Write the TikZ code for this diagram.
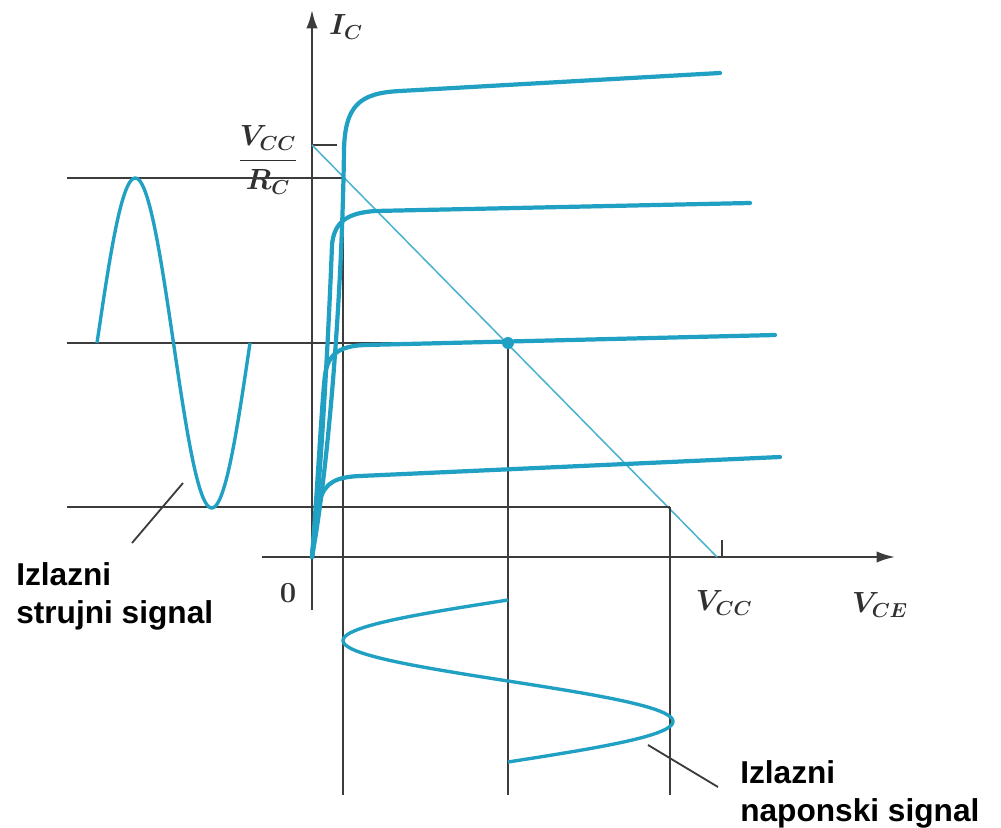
\documentclass[tikz,border=0pt]{standalone}
\usepackage{amsmath}
\usepackage{fontspec}
\newfontfamily\labelfont{Liberation Sans}
\usepackage{tikz}
\usetikzlibrary{arrows.meta}
\definecolor{teal}{RGB}{32,160,194}
\definecolor{ink}{RGB}{60,60,60}
\tikzset{
  axis/.style={ink, line width=1.6pt, -{Latex[length=13pt,width=8pt]}},
  gridline/.style={ink, line width=1.1pt},
  curve/.style={teal, line width=3pt, line cap=round},
  signal/.style={teal, line width=2.4pt},
  loadline/.style={teal!80, line width=1.1pt},
  pointer/.style={ink, line width=1.3pt},
  mathlabel/.style={font=\fontsize{22}{24}\selectfont\boldmath, text=ink!80!black},
  tag/.style={font=\labelfont\bfseries\fontsize{22.5}{27}\selectfont, align=left, anchor=north west, inner sep=0pt}
}

\begin{document}
\begin{tikzpicture}[x=0.025cm, y=-0.025cm]
  \useasboundingbox (0,0) rectangle (1001,828);
  % key points
  \coordinate (O) at (312,557);
  \coordinate (Q) at (508,343);
  \coordinate (ICmax) at (312,145);
  \coordinate (VCC) at (717,557);
  % axes
  \draw[axis] (312,610) -- (312,10);
  \draw[axis] (262,557) -- (895,557);
  \node[mathlabel] (zero) at (288,593) {$\mathbf{0}$};
  \node[mathlabel] (ic) at (346,27) {$I_C$};
  \node[mathlabel] (vccrc) at (268,160) {$\dfrac{V_{CC}}{R_C}$};
  \node[mathlabel] (vcc) at (724,603) {$V_{CC}$};
  \node[mathlabel] (vce) at (880,605) {$V_{CE}$};
  % ticks
  \draw[gridline] (ICmax) -- ++(25,0);
  \draw[gridline] (722,557) -- (722,540);
  % load line
  \draw[loadline] (ICmax) -- (VCC);
  % projection lines
  \draw[gridline] (67,178) -- (343,178);
  \draw[gridline] (67,343) -- (Q);
  \draw[gridline] (67,507) -- (670,507);
  \draw[gridline] (343,178) -- (343,795);
  \draw[gridline] (Q) -- (508,795);
  \draw[gridline] (670,507) -- (670,795);
  % characteristic curves
  \draw[curve] (O) .. controls (328,470) and (342,300) .. (344,150)
    .. controls (345,105) and (360,93) .. (400,91) -- (720,73);
  \draw[curve] (O) .. controls (322,470) and (330,300) .. (332,245)
    .. controls (334,222) and (347,213) .. (375,211) -- (750,203);
  \draw[curve] (O) .. controls (318,480) and (322,400) .. (325,375)
    .. controls (328,355) and (338,346) .. (365,345) -- (775,335);
  \draw[curve] (O) .. controls (315,525) and (317,510) .. (320,500)
    .. controls (325,482) and (337,477) .. (360,476) -- (780,457);
  \fill[teal] (Q) circle (6);
  % output signals
  \draw[signal] plot[domain=97:250, samples=90] (\x, {343 - 165*sin(2.3529*(\x-97))});
  \draw[signal] plot[domain=600:762, samples=90] ({508 - 165*sin(2.2222*(\x-600))}, \x);
  % labels
  \coordinate (ptrA) at (132,543);
  \coordinate (ptrB) at (183,483);
  \draw[pointer] (ptrA) -- (ptrB);
  \node[tag] (current) at (16,562) {Izlazni\\strujni signal};
  \coordinate (ptrC) at (648,745);
  \coordinate (ptrD) at (718,787);
  \draw[pointer] (ptrC) -- (ptrD);
  \node[tag] (voltage) at (740,760) {Izlazni\\naponski signal};
\end{tikzpicture}
\end{document}
